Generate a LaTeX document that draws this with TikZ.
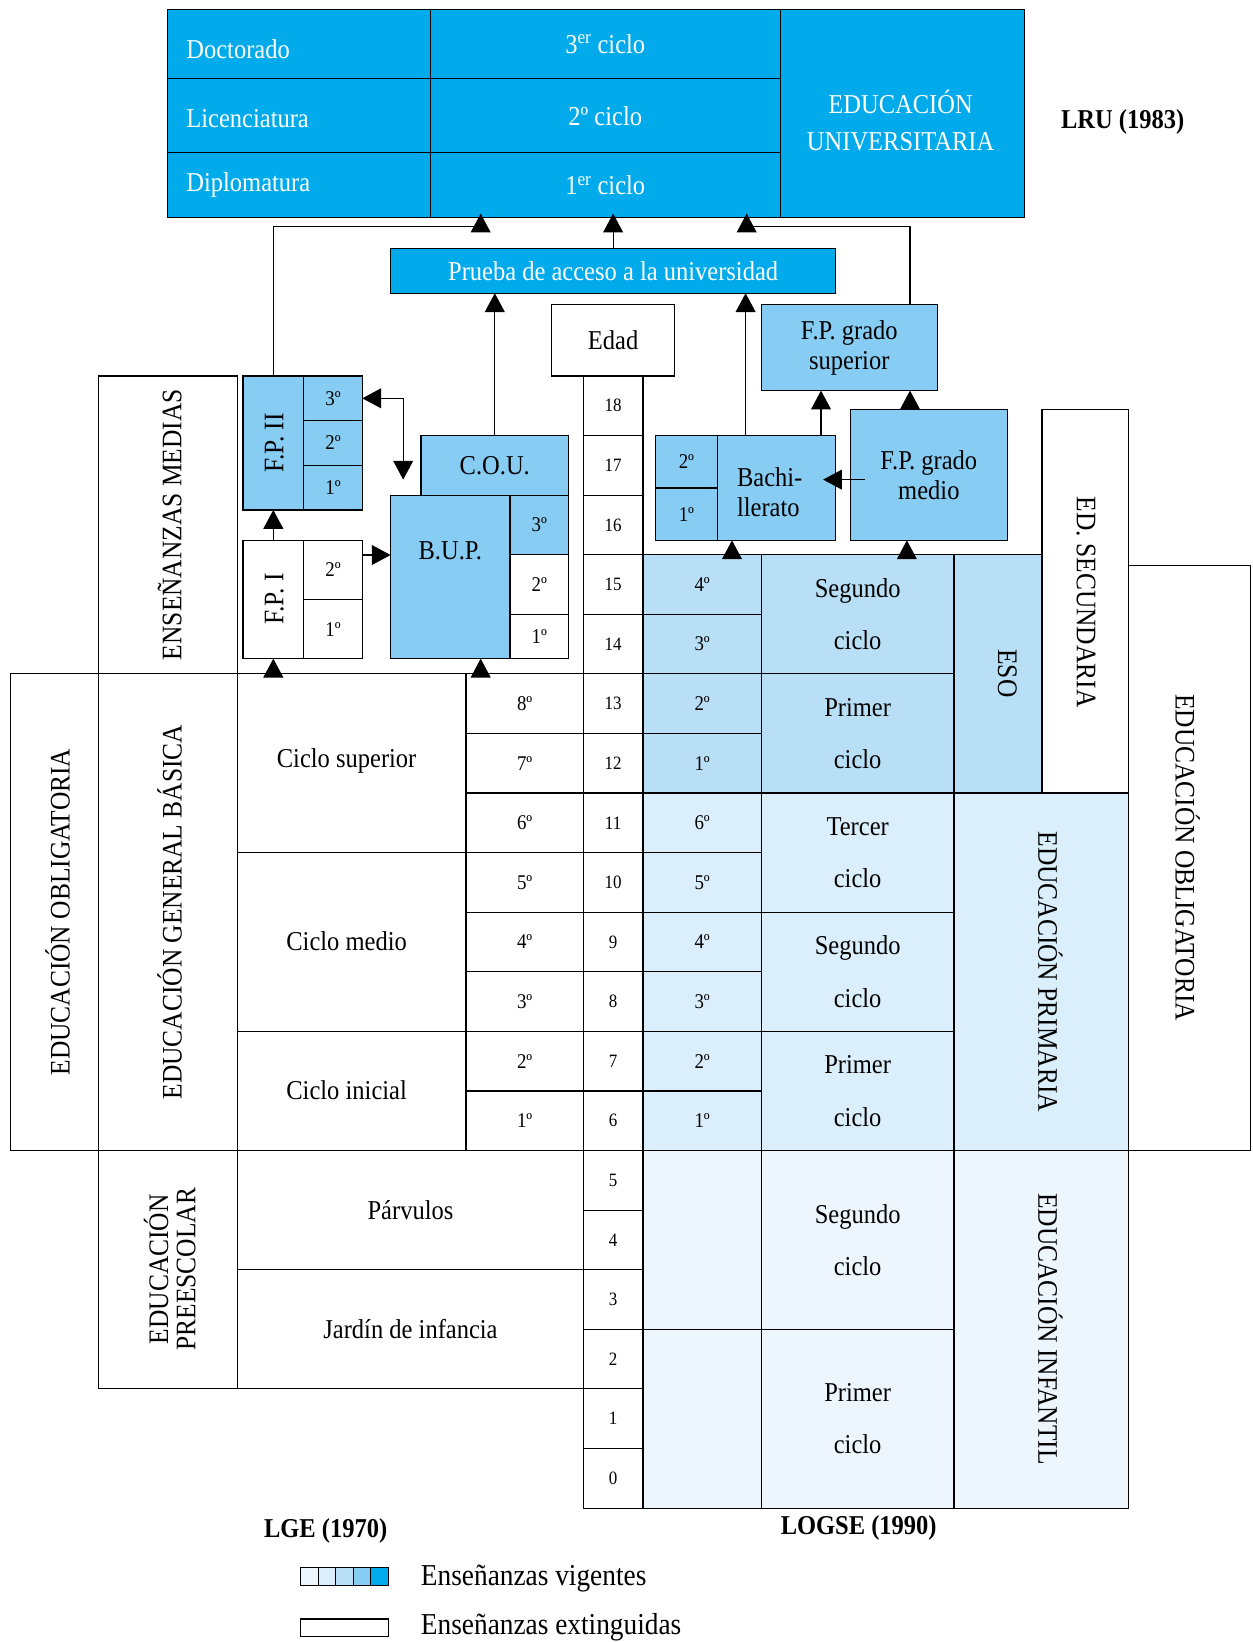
\documentclass[tikz,border=0pt]{standalone}
\usepackage{fontspec}
\setmainfont{Liberation Serif}[FakeStretch=0.9]
\usetikzlibrary{arrows.meta}
\definecolor{cUni}{RGB}{0,170,235}
\definecolor{cFP}{RGB}{135,204,243}
\definecolor{cESO}{RGB}{184,223,246}
\definecolor{cPri}{RGB}{218,238,251}
\definecolor{cInf}{RGB}{238,246,253}
\newcommand{\bx}[7][]{\node[cellbox,minimum width={(#5-#3)*1pt},minimum height={(#6-#4)*1pt},#1] (#2) at ({(#3+#5)/2},{(#4+#6)/2}) {#7};}
\begin{document}
\begin{tikzpicture}[x=1pt,y=-1pt,line width=1.1pt,
  cellbox/.style={draw=black,fill=white,inner sep=0pt,outer sep=0pt,align=center},
  uni/.style={fill=cUni,text=white},
  fp/.style={fill=cFP},
  eso/.style={fill=cESO},
  pri/.style={fill=cPri},
  inf/.style={fill=cInf},
  f18/.style={font=\fontsize{18}{21}\selectfont},
  f20/.style={font=\fontsize{20}{23}\selectfont},
  f27/.style={font=\fontsize{27}{30}\selectfont},
  lbl/.style={inner sep=0pt,outer sep=0pt,align=center},
  arr/.style={-{Triangle[length=18pt,width=19pt]}},
  darr/.style={{Triangle[length=18pt,width=19pt]}-{Triangle[length=18pt,width=19pt]}}]
\fontsize{26}{29}\selectfont
\useasboundingbox (0,0) rectangle (1196,1568);

% ---------- University ----------
\bx[uni]{doct}{160}{9}{411}{75}{}
\bx[uni]{lic}{160}{75}{411}{146}{}
\bx[uni]{dip}{160}{146}{411}{208}{}
\node[lbl,anchor=base west,text=white] (tdoct) at (178,56) {Doctorado};
\node[lbl,anchor=base west,text=white] (tlic) at (178,122) {Licenciatura};
\node[lbl,anchor=base west,text=white] (tdip) at (178,183) {Diplomatura};
\bx[uni]{c3}{411}{9}{745}{75}{3\textsuperscript{er} ciclo}
\bx[uni]{c2}{411}{75}{745}{146}{2º ciclo}
\bx[uni]{c1}{411}{146}{745}{208}{1\textsuperscript{er} ciclo}
\bx[uni]{eduuni}{745}{9}{978}{208}{}
\node[lbl,text=white,font=\fontsize{26}{36}\selectfont] (teduuni) at (860,115) {EDUCACIÓN\\UNIVERSITARIA};
\node[lbl,font=\bfseries] (lru) at (1072,116) {LRU (1983)};

\bx[uni]{prueba}{373}{237}{798}{280}{Prueba de acceso a la universidad}

% ---------- Ages ----------
\bx{edad}{527}{291}{644}{359}{Edad}
\foreach \a [count=\k from 0] in {18,17,...,0} {
  \pgfmathsetmacro\ya{359+56.9*\k}
  \pgfmathsetmacro\yb{\ya+56.9}
  \bx[f18]{age\a}{557}{\ya}{614}{\yb}{\a}
}

% ---------- LGE upper ----------
\bx{ensm}{94}{359}{227}{643.5}{}
\node[lbl,f27,rotate=90] (tensm) at (162,501) {ENSEÑANZAS MEDIAS};

\bx[fp]{fp2}{232}{359}{346}{487}{}
\bx[fp]{fp2l}{232}{359}{290}{487}{}
\node[lbl,f27,rotate=90] (tfp2) at (262,423) {F.P. II};
\bx[fp,f20]{fp2c3}{290}{359}{346}{401.7}{3º}
\bx[fp,f20]{fp2c2}{290}{401.7}{346}{444.3}{2º}
\bx[fp,f20]{fp2c1}{290}{444.3}{346}{487}{1º}

\bx{fp1}{232}{516}{346}{629}{}
\bx{fp1l}{232}{516}{290}{629}{}
\node[lbl,f27,rotate=90] (tfp1) at (262,572) {F.P. I};
\bx[f20]{fp1c2}{290}{516}{346}{572.5}{2º}
\bx[f20]{fp1c1}{290}{572.5}{346}{629}{1º}

\bx[fp]{cou}{402}{415.9}{543}{472.8}{C.O.U.}
\bx[fp]{bup}{373}{472.8}{543}{629}{}
\node[lbl] (tbup) at (430,526) {B.U.P.};
\bx[fp,f20]{bupc3}{487}{472.8}{543}{529.7}{3º}
\bx[f20]{bupc2}{487}{529.7}{543}{586.6}{2º}
\bx[f20]{bupc1}{487}{586.6}{543}{629}{1º}

% ---------- LGE lower ----------
\bx{oblL}{10}{643.5}{94}{1098.7}{}
\node[lbl,f27,rotate=90] (toblL) at (55,871) {EDUCACIÓN OBLIGATORIA};
\bx{egb}{94}{643.5}{227}{1098.7}{}
\node[lbl,f27,rotate=90] (tegb) at (162,871) {EDUCACIÓN GENERAL BÁSICA};
\bx{csup}{227}{643.5}{445}{814.2}{}
\node[lbl] (tcsup) at (331,727) {Ciclo superior};
\bx{cmed}{227}{814.2}{445}{984.9}{}
\node[lbl] (tcmed) at (331,899) {Ciclo medio};
\bx{cini}{227}{984.9}{445}{1098.7}{}
\node[lbl] (tcini) at (331,1041) {Ciclo inicial};
\foreach \k/\t in {5/8º,6/7º,7/6º,8/5º,9/4º,10/3º,11/2º,12/1º} {
  \pgfmathsetmacro\ya{359+56.9*\k}
  \pgfmathsetmacro\yb{\ya+56.9}
  \bx[f20]{gc\k}{445}{\ya}{557}{\yb}{\t}
}
\bx{presc}{94}{1098.7}{227}{1326.3}{}
\node[lbl,f27,rotate=90,font=\fontsize{27}{26}\selectfont] (tpresc) at (162,1212) {EDUCACIÓN\\PREESCOLAR};
\bx{parv}{227}{1098.7}{557}{1212.5}{Párvulos}
\bx{jard}{227}{1212.5}{557}{1326.3}{Jardín de infancia}

% ---------- LOGSE ----------
\bx[fp]{bach}{626}{416}{798}{516}{}
\bx[fp,f20]{bach2}{626}{416}{685}{466}{2º}
\bx[fp,f20]{bach1}{626}{466}{685}{516}{1º}
\node[lbl,align=left] (tbach) at (735,470) {Bachi-\\llerato};
\bx[fp]{fpsup}{727}{291}{895}{373}{F.P. grado\\superior}
\bx[fp]{fpm}{812}{391}{962}{516}{F.P. grado\\medio}

\foreach \k/\t in {3/4º,4/3º,5/2º,6/1º} {
  \pgfmathsetmacro\ya{359+56.9*\k}
  \pgfmathsetmacro\yb{\ya+56.9}
  \bx[eso,f20]{lc\k}{614}{\ya}{727}{\yb}{\t}
}
\foreach \k/\t in {7/6º,8/5º,9/4º,10/3º,11/2º,12/1º} {
  \pgfmathsetmacro\ya{359+56.9*\k}
  \pgfmathsetmacro\yb{\ya+56.9}
  \bx[pri,f20]{lc\k}{614}{\ya}{727}{\yb}{\t}
}
\bx[inf]{lci1}{614}{1098.7}{727}{1269.4}{}
\bx[inf]{lci2}{614}{1269.4}{727}{1440.1}{}

\bx[eso]{lsE2}{727}{529.7}{911}{643.5}{Segundo\\[21pt]ciclo}
\bx[eso]{lsE1}{727}{643.5}{911}{757.3}{Primer\\[21pt]ciclo}
\bx[pri]{lsP3}{727}{757.3}{911}{871.1}{Tercer\\[21pt]ciclo}
\bx[pri]{lsP2}{727}{871.1}{911}{984.9}{Segundo\\[21pt]ciclo}
\bx[pri]{lsP1}{727}{984.9}{911}{1098.7}{Primer\\[21pt]ciclo}
\bx[inf]{lsI2}{727}{1098.7}{911}{1269.4}{Segundo\\[21pt]ciclo}
\bx[inf]{lsI1}{727}{1269.4}{911}{1440.1}{Primer\\[21pt]ciclo}

\bx[eso]{eso}{911}{529.7}{995}{757.3}{}
\node[lbl,f27,rotate=-90] (teso) at (962,643) {ESO};
\bx{edsec}{995}{391}{1078}{757.3}{}
\node[lbl,f27,rotate=-90] (tedsec) at (1037,575) {ED. SECUNDARIA};
\bx[pri]{prim}{911}{757.3}{1078}{1098.7}{}
\node[lbl,f27,rotate=-90] (tprim) at (1003,928) {EDUCACIÓN PRIMARIA};
\bx[inf]{infa}{911}{1098.7}{1078}{1440.1}{}
\node[lbl,f27,rotate=-90] (tinfa) at (1003,1269) {EDUCACIÓN INFANTIL};
\bx{oblR}{1078}{540}{1194}{1098.7}{}
\node[lbl,f27,rotate=-90] (toblR) at (1134,819) {EDUCACIÓN OBLIGATORIA};

% ---------- Connectors ----------
\coordinate (jl) at (459,216);
\coordinate (jr) at (713,216);
\coordinate (jr2) at (869,216);
\draw (fp2l.north) |- (jl);
\draw[arr] (jl) -- ([yshift=4pt]jl |- c1.south);
\draw[arr] (prueba.north) -- ([yshift=4pt]prueba.north |- c1.south);
\draw (jr2 |- fpsup.north) -- (jr2) -- (jr);
\draw[arr] (jr) -- ([yshift=4pt]jr |- c1.south);
\draw[arr] (cou.north) -- (cou.north |- prueba.south);
\draw[arr] (bach.north) -- (bach.north |- prueba.south);
\coordinate (xs) at (784,0);
\draw[arr] (xs |- bach.north) -- (xs |- fpsup.south);
\draw[arr] (jr2 |- fpm.north) -- (jr2 |- fpsup.south);
\coordinate (ha) at (826,458);
\coordinate (hb) at (786,458);
\draw[arr] (ha) -- (hb);
\coordinate (xa) at (699,0);
\draw[arr] (xa |- lc3.north) -- (xa |- bach.south);
\coordinate (xb) at (866,0);
\draw[arr] (xb |- lsE2.north) -- (xb |- fpm.south);
\draw[arr] (fp1l.north) -- (fp2l.south);
\draw[arr] (fp1l.south |- csup.north) -- (fp1l.south);
\coordinate (xc) at (459,0);
\draw[arr] (xc |- gc5.north) -- (xc |- bup.south);
\coordinate (yy) at (0,530);
\draw[arr] (fp1c2.east |- yy) -- (bup.west |- yy);
\coordinate (dd) at (385,458);
\draw[darr] (fp2c3.east) -| (dd);

% ---------- Labels & legend ----------
\node[lbl,font=\bfseries] (lge) at (311,1462) {LGE (1970)};
\node[lbl,font=\bfseries] (logse) at (820,1459) {LOGSE (1990)};
\foreach \i/\c in {0/cInf,1/cPri,2/cESO,3/cFP,4/cUni} {
  \pgfmathsetmacro\xa{287+16.8*\i}
  \pgfmathsetmacro\xb{\xa+16.8}
  \bx[fill=\c]{leg\i}{\xa}{1497}{\xb}{1514}{}
}
\bx{legw}{287}{1546}{371}{1563}{}
\node[lbl,anchor=west,font=\fontsize{29}{32}\selectfont] (tlegv) at (402,1507) {Enseñanzas vigentes};
\node[lbl,anchor=west,font=\fontsize{29}{32}\selectfont] (tlege) at (402,1554) {Enseñanzas extinguidas};
\end{tikzpicture}
\end{document}
